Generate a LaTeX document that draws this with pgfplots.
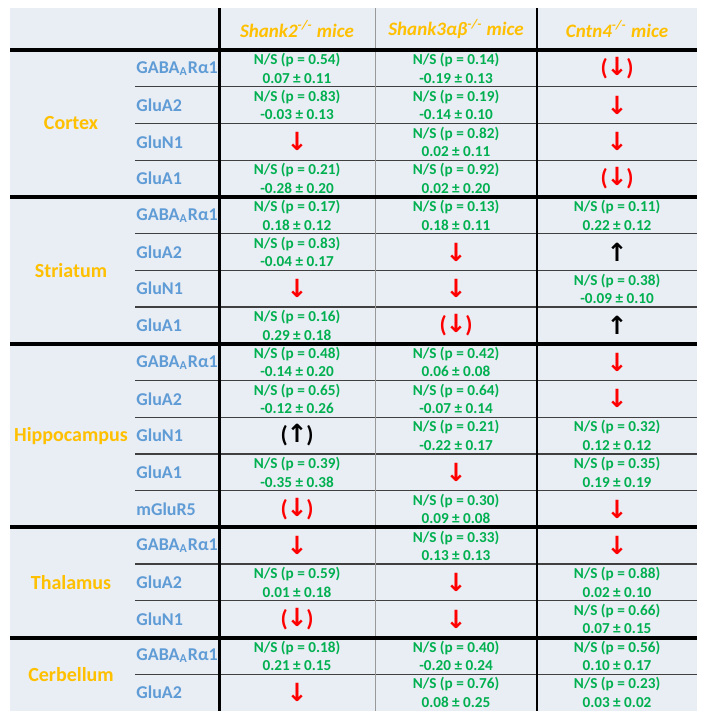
\documentclass[border=0pt]{standalone}
\usepackage{fontspec}
\setmainfont{Carlito}
\newfontfamily\arrowfont{DejaVu Sans}
\usepackage{pgfplots}
\pgfplotsset{compat=1.18}
\usepackage{pgfplotstable}

\definecolor{bg}{HTML}{E9EDF4}
\definecolor{gold}{HTML}{FFC000}
\definecolor{rblue}{HTML}{5F9CD6}
\definecolor{nsgreen}{HTML}{00B050}
\definecolor{arrred}{HTML}{FF0000}

% non-significant cells: row, column centre, p, mean, sd
\pgfplotstableread{
r x p m s
1 297 0.54 0.07 0.11
1 456 0.14 -0.19 0.13
2 297 0.83 -0.03 0.13
2 456 0.19 -0.14 0.10
3 456 0.82 0.02 0.11
4 297 0.21 -0.28 0.20
4 456 0.92 0.02 0.20
5 297 0.17 0.18 0.12
5 456 0.13 0.18 0.11
5 617 0.11 0.22 0.12
6 297 0.83 -0.04 0.17
7 617 0.38 -0.09 0.10
8 297 0.16 0.29 0.18
9 297 0.48 -0.14 0.20
9 456 0.42 0.06 0.08
10 297 0.65 -0.12 0.26
10 456 0.64 -0.07 0.14
11 456 0.21 -0.22 0.17
11 617 0.32 0.12 0.12
12 297 0.39 -0.35 0.38
12 617 0.35 0.19 0.19
13 456 0.30 0.09 0.08
14 456 0.33 0.13 0.13
15 297 0.59 0.01 0.18
15 617 0.88 0.02 0.10
16 617 0.66 0.07 0.15
17 297 0.18 0.21 0.15
17 456 0.40 -0.20 0.24
17 617 0.56 0.10 0.17
18 456 0.76 0.08 0.25
18 617 0.23 0.03 0.02
}\nscells

% significant decrease
\pgfplotstableread{
r x
3 297
2 617
3 617
6 456
7 297
7 456
9 617
10 617
12 456
13 617
14 297
14 617
15 456
16 456
18 297
}\downcells

% trend decrease
\pgfplotstableread{
r x
1 617
4 617
8 456
13 297
16 297
}\downtrend

% significant increase
\pgfplotstableread{
r x
6 617
8 617
}\upcells

% trend increase
\pgfplotstableread{
r x
11 297
}\uptrend

\pgfplotstableread{
r name
1 GABA\textsubscript{A}Rα1
2 GluA2
3 GluN1
4 GluA1
5 GABA\textsubscript{A}Rα1
6 GluA2
7 GluN1
8 GluA1
9 GABA\textsubscript{A}Rα1
10 GluA2
11 GluN1
12 GluA1
13 mGluR5
14 GABA\textsubscript{A}Rα1
15 GluA2
16 GluN1
17 GABA\textsubscript{A}Rα1
18 GluA2
}\receptors

\pgfplotsset{
  cell/.style={only marks, mark=*, mark size=0pt,
    mark options={draw=none, fill=none},
    nodes near coords align=center,
    every node near coord/.append style={anchor=center, inner sep=0pt}},
}
\newcommand{\dn}{{\arrowfont\bfseries\fontsize{12.5}{13}\selectfont ↓}}
\newcommand{\up}{{\arrowfont\bfseries\fontsize{12.5}{13}\selectfont ↑}}

\begin{document}
\begin{tikzpicture}
\begin{axis}[
  width=354pt, height=360.5pt, scale only axis,
  xmin=0, xmax=708, ymin=0, ymax=721, y dir=reverse,
  hide axis, clip=false,
  /pgf/number format/.cd, fixed, fixed zerofill, precision=2, assume math mode=true,
]
\addplot[draw=none, fill=white] coordinates {(0,0) (708,0) (708,721) (0,721)} -- cycle;
\addplot[draw=none, fill=bg] coordinates {(10,8) (697,8) (697,711) (10,711)} -- cycle;

% thin row separators
\addplot[black!75, line width=0.6pt, unbounded coords=jump] coordinates {
  (135,86.72) (697,86.72) (nan,nan)
  (135,123.44) (697,123.44) (nan,nan)
  (135,160.16) (697,160.16) (nan,nan)
  (135,233.6) (697,233.6) (nan,nan)
  (135,270.32) (697,270.32) (nan,nan)
  (135,307.04) (697,307.04) (nan,nan)
  (135,380.48) (697,380.48) (nan,nan)
  (135,417.2) (697,417.2) (nan,nan)
  (135,453.92) (697,453.92) (nan,nan)
  (135,490.64) (697,490.64) (nan,nan)
  (135,564.08) (697,564.08) (nan,nan)
  (135,600.8) (697,600.8) (nan,nan)
  (135,674.24) (697,674.24)
};
% columns
\addplot[black!40, line width=0.6pt] coordinates {(375.5,8) (375.5,711)};
\addplot[black, line width=1pt] coordinates {(536.5,8) (536.5,711)};
\addplot[black, line width=1.5pt] coordinates {(219,8) (219,711)};
% region separators
\addplot[black, line width=2pt, unbounded coords=jump] coordinates {
  (10,50) (697,50) (nan,nan)
  (10,196.88) (697,196.88) (nan,nan)
  (10,343.76) (697,343.76) (nan,nan)
  (10,527.36) (697,527.36) (nan,nan)
  (10,637.52) (697,637.52)
};

% N/S cells
\addplot[cell,
  visualization depends on={\thisrow{p}\as\pv},
  visualization depends on={\thisrow{m}\as\mv},
  visualization depends on={\thisrow{s}\as\sv},
  nodes near coords={N/S (p = \pgfmathprintnumber{\pv})\\\pgfmathprintnumber{\mv} ± \pgfmathprintnumber{\sv}},
  every node near coord/.append style={text=nsgreen, align=center,
    font=\fontsize{7.6}{9.2}\selectfont\bfseries},
] table[x=x, y expr={50+36.72*(\thisrow{r}-0.5)}] {\nscells};

\addplot[cell, nodes near coords={\dn},
  every node near coord/.append style={text=arrred},
] table[x=x, y expr={50+36.72*(\thisrow{r}-0.5)}] {\downcells};
\addplot[cell, nodes near coords={{\bfseries(}\kern-0.6pt\dn\kern-0.6pt{\bfseries)}},
  every node near coord/.append style={text=arrred, font=\fontsize{11.5}{12}\selectfont},
] table[x=x, y expr={50+36.72*(\thisrow{r}-0.5)}] {\downtrend};
\addplot[cell, nodes near coords={\up},
  every node near coord/.append style={text=black},
] table[x=x, y expr={50+36.72*(\thisrow{r}-0.5)}] {\upcells};
\addplot[cell, nodes near coords={{\bfseries(}\kern-0.6pt\up\kern-0.6pt{\bfseries)}},
  every node near coord/.append style={text=black, font=\fontsize{11.5}{12}\selectfont},
] table[x=x, y expr={50+36.72*(\thisrow{r}-0.5)}] {\uptrend};

% receptor names
\addplot[cell, point meta=explicit symbolic, nodes near coords,
  every node near coord/.append style={anchor=west, text=rblue,
    font=\fontsize{9}{10}\selectfont\bfseries},
] table[x expr=136, y expr={50+36.72*(\thisrow{r}-0.5)}, meta=name] {\receptors};

% regions
\begin{scope}[every node/.style={text=gold, font=\fontsize{10}{12}\selectfont\bfseries}]
\node at (axis cs:71,123.44) {Cortex};
\node at (axis cs:71,270.32) {Striatum};
\node at (axis cs:71,435.56) {Hippocampus};
\node at (axis cs:71,582.44) {Thalamus};
\node at (axis cs:71,674.24) {Cerbellum};
\end{scope}
% header
\begin{scope}[every node/.style={text=gold, font=\fontsize{9.5}{11}\selectfont\bfseries\itshape}]
\node at (axis cs:297,29) {Shank2\textsuperscript{-/-} mice};
\node at (axis cs:456,29) {Shank3αβ\textsuperscript{-/-} mice};
\node at (axis cs:617,29) {Cntn4\textsuperscript{-/-} mice};
\end{scope}
\end{axis}
\end{tikzpicture}
\end{document}
